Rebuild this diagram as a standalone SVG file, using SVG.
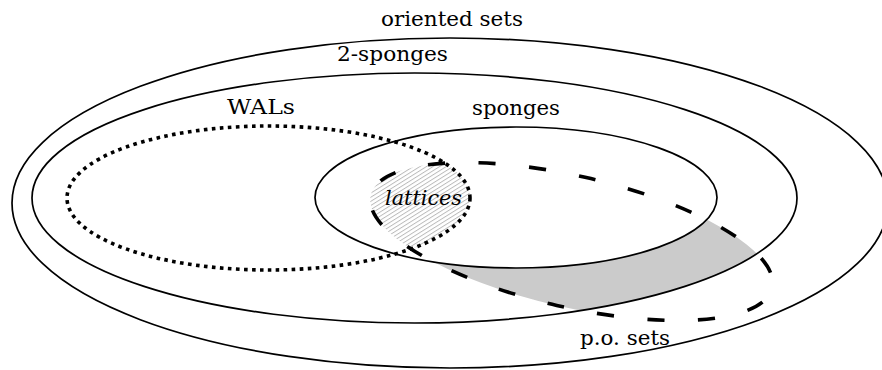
<svg xmlns="http://www.w3.org/2000/svg" width="882" height="370" viewBox="0 0 882 370">
  <style>
    .solid { fill: none; stroke: #000; stroke-width: 1.7; }
    .dotted { fill: none; stroke: #000; stroke-width: 3.6; stroke-dasharray: 3.6 4.4; }
    .dashed { fill: none; stroke: #000; stroke-width: 3.6; stroke-dasharray: 17 33; stroke-dashoffset: 32.5; }
    text { font-family: 'DejaVu Serif', serif; font-size: 21px; fill: #000; }
    .it { font-style: italic; }
  </style>
  <defs>
    <clipPath id="clip2sp">
      <ellipse cx="414.5" cy="198" rx="382.5" ry="125"/>
    </clipPath>
    <clipPath id="clipWAL">
      <ellipse cx="268.5" cy="198" rx="201.5" ry="72"/>
    </clipPath>
    <pattern id="hatch" patternUnits="userSpaceOnUse" width="3.5" height="10" patternTransform="rotate(45)">
      <line x1="0.5" y1="0" x2="0.5" y2="10" stroke="#a8a8a8" stroke-width="0.8"/>
    </pattern>
  </defs>

  <rect width="882" height="370" fill="#fff"/>

  <g id="regions">
    <g clip-path="url(#clip2sp)">
      <ellipse cx="571.5" cy="241.5" rx="206" ry="65.6" transform="rotate(13 571.5 241.5)" fill="#cbcbcb"/>
    </g>
    <ellipse cx="516" cy="197.5" rx="201" ry="70.5" fill="#fff"/>
    <g clip-path="url(#clipWAL)">
      <ellipse cx="571.5" cy="241.5" rx="206" ry="65.6" transform="rotate(13 571.5 241.5)" fill="url(#hatch)"/>
    </g>
  </g>

  <g id="oriented-sets">
    <ellipse class="solid" cx="450" cy="203" rx="438" ry="165"/>
    <text x="381" y="26" textLength="142" lengthAdjust="spacingAndGlyphs">oriented sets</text>
  </g>

  <g id="two-sponges">
    <ellipse class="solid" cx="414.5" cy="198" rx="382.5" ry="125"/>
    <text x="337" y="61" textLength="111" lengthAdjust="spacingAndGlyphs">2-sponges</text>
  </g>

  <g id="sponges">
    <ellipse class="solid" cx="516" cy="197.5" rx="201" ry="70.5"/>
    <text x="472" y="115" textLength="88" lengthAdjust="spacingAndGlyphs">sponges</text>
  </g>

  <g id="wals">
    <ellipse class="dotted" cx="268.5" cy="198" rx="201.5" ry="72"/>
    <text x="227" y="114" textLength="68" lengthAdjust="spacingAndGlyphs">WALs</text>
  </g>

  <g id="po-sets">
    <ellipse class="dashed" cx="571.5" cy="241.5" rx="206" ry="65.6" transform="rotate(13 571.5 241.5)" pathLength="900"/>
    <text x="580" y="345" textLength="90" lengthAdjust="spacingAndGlyphs">p.o. sets</text>
  </g>

  <g id="lattices">
    <text class="it" x="385" y="205" textLength="77" lengthAdjust="spacingAndGlyphs">lattices</text>
  </g>

  <g id="connectors"></g>
</svg>
